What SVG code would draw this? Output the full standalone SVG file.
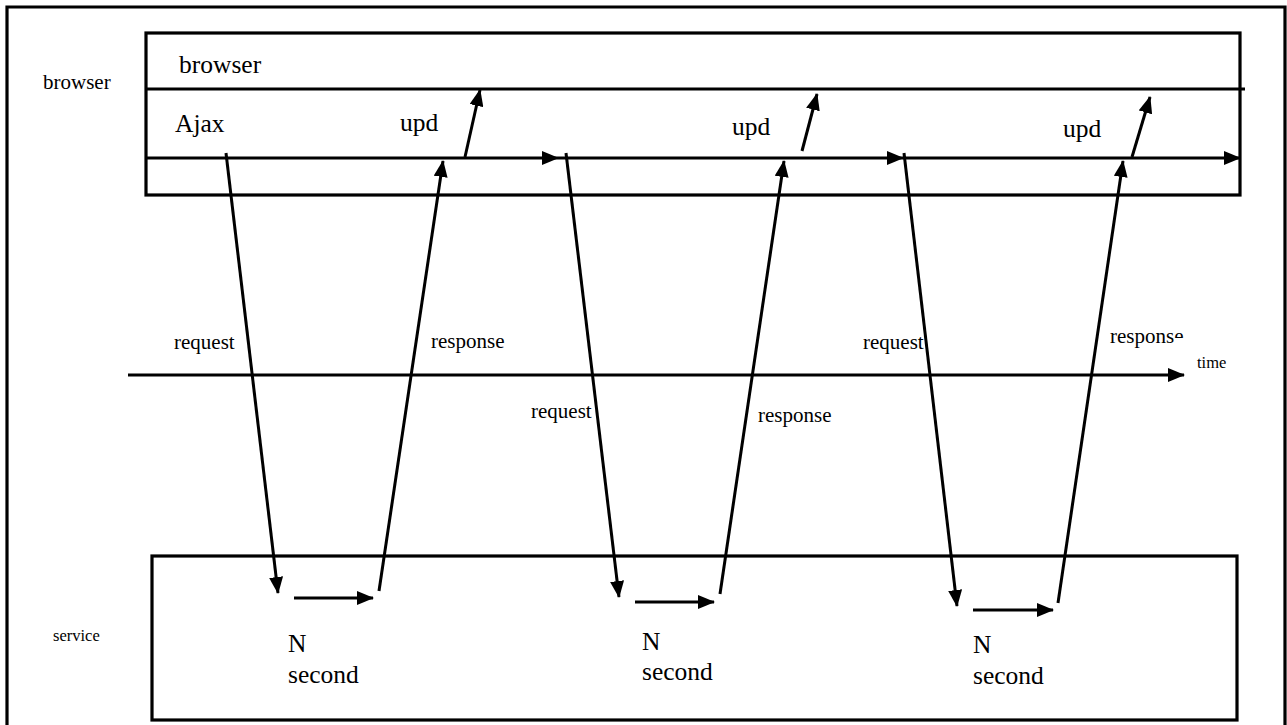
<svg xmlns="http://www.w3.org/2000/svg" width="1287" height="725" viewBox="0 0 1287 725">
<style>
.ln{stroke:#000;stroke-width:3;fill:none}
.bx{stroke:#000;stroke-width:3.2;fill:none}
.ar{stroke:#000;stroke-width:3;fill:none;marker-end:url(#ah)}
.big{font-size:25.5px}
.mid{font-size:21px}
.sm{font-size:16.5px}
</style>
<defs>
<marker id="ah" markerUnits="userSpaceOnUse" markerWidth="17" markerHeight="14" refX="16" refY="7" orient="auto">
<path d="M0,0 L17,7 L0,14 z" fill="#000"/>
</marker>
<clipPath id="rc"><path d="M0,0 H1287 V338 H1174 V725 H0 z"/></clipPath>
</defs>
<rect width="1287" height="725" fill="#fff"/>
<g id="frame"><path class="bx" d="M7,728 V7 H1285 V728"/></g>
<g font-family="'Liberation Serif', 'Times New Roman', 'DejaVu Serif', serif" fill="#000">
<g id="browser-box">
<rect class="bx" x="146" y="33" width="1094" height="162"/>
<line class="ln" x1="146" y1="89" x2="1245" y2="89"/>
<text class="big" x="179" y="73">browser</text>
<text class="big" x="175" y="132">Ajax</text>
<text class="big" x="400" y="131">upd</text>
<text class="big" x="732" y="135">upd</text>
<text class="big" x="1063" y="137">upd</text>
</g>
<g id="service-box">
<rect class="bx" x="152" y="556" width="1085" height="164"/>
<text class="big" x="288" y="652">N</text>
<text class="big" x="288" y="683">second</text>
<text class="big" x="642" y="650">N</text>
<text class="big" x="642" y="680">second</text>
<text class="big" x="973" y="653">N</text>
<text class="big" x="973" y="684">second</text>
</g>
<g id="labels">
<text class="mid" x="43" y="89">browser</text>
<text class="sm" x="53" y="641">service</text>
<text class="sm" x="1197" y="368">time</text>
<text class="mid" x="174" y="349">request</text>
<text class="mid" x="431" y="348">response</text>
<text class="mid" x="531" y="418">request</text>
<text class="mid" x="758" y="422">response</text>
<text class="mid" x="863" y="349">request</text>
<text class="mid" x="1110" y="343" clip-path="url(#rc)">response</text>
</g>
</g>
<g id="connectors">
<line class="ar" x1="128" y1="375" x2="1184" y2="375"/>
<line class="ar" x1="146" y1="158" x2="558" y2="158"/>
<line class="ar" x1="558" y1="158" x2="903" y2="158"/>
<line class="ar" x1="903" y1="158" x2="1240" y2="158"/>
<line class="ar" x1="226" y1="153" x2="278" y2="593"/>
<line class="ar" x1="566" y1="153" x2="619" y2="597"/>
<line class="ar" x1="904" y1="153" x2="957" y2="606"/>
<line class="ar" x1="379" y1="591" x2="443" y2="161"/>
<line class="ar" x1="720" y1="594" x2="784" y2="161"/>
<line class="ar" x1="1058" y1="603" x2="1123" y2="161"/>
<line class="ar" x1="465" y1="157" x2="480" y2="90"/>
<line class="ar" x1="802" y1="151" x2="817" y2="94"/>
<line class="ar" x1="1132" y1="157" x2="1150" y2="97"/>
<line class="ar" x1="294" y1="598" x2="373" y2="598"/>
<line class="ar" x1="635" y1="602" x2="714" y2="602"/>
<line class="ar" x1="973" y1="610" x2="1053" y2="610"/>
</g>
</svg>
